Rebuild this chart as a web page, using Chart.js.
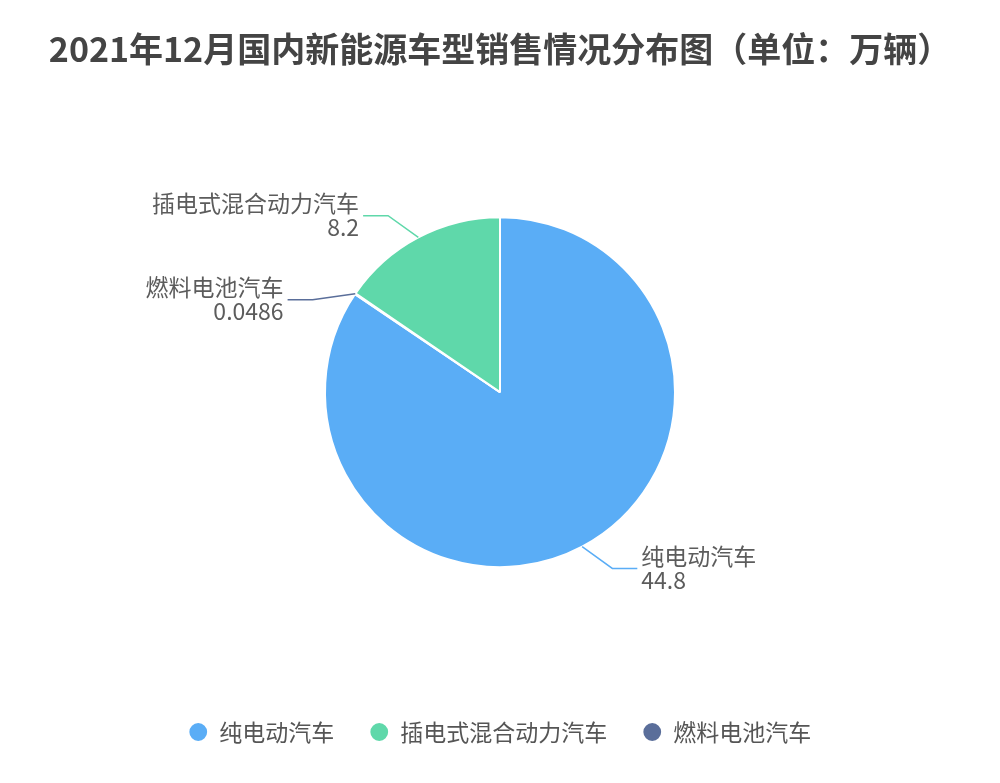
<!DOCTYPE html>
<html>
<head>
<meta charset="utf-8">
<script src="https://cdn.jsdelivr.net/npm/chart.js@4.4.0/dist/chart.umd.min.js"></script>
<style>
  html, body { margin: 0; padding: 0; background: #fff; }
  #wrap { width: 1000px; height: 783px; }
</style>
</head>
<body>
<div id="wrap"><canvas id="ChPie"></canvas></div>
<script>
// data (drawing order: clockwise from 12 o'clock)
const Categorias = ['纯电动汽车', '燃料电池汽车', '插电式混合动力汽车'];
const Ventas = [44.8, 0.0486, 8.2];
const Colores = ['#5aadf6', '#5a6e9a', '#5fd8aa'];
// legend order as shown under the chart
const OrdenLeyenda = ['纯电动汽车', '插电式混合动力汽车', '燃料电池汽车'];
const Titulo = '2021年12月国内新能源车型销售情况分布图（单位：万辆）';

const FONT = "'Noto Sans CJK SC', 'Noto Sans', sans-serif";

// leader lines + two-line labels, placed from the arc elements
const EtiquetasPie = {
    id: 'etiquetasPie',
    afterDatasetsDraw(chart, args, opts) {
        const ctx = chart.ctx;
        const meta = chart.getDatasetMeta(0);
        const ds = chart.data.datasets[0];
        var items = [];

        meta.data.forEach((arc, i) => {
            const p = arc.getProps(['x', 'y', 'startAngle', 'endAngle', 'outerRadius'], true);
            const mid = (p.startAngle + p.endAngle) / 2;
            const R = p.outerRadius + opts.len;
            items.push({
                i: i,
                cx: p.x, cy: p.y, R: R,
                side: Math.cos(mid) >= 0 ? 1 : -1,
                ex: p.x + Math.cos(mid) * p.outerRadius,
                ey: p.y + Math.sin(mid) * p.outerRadius,
                y: p.y + Math.sin(mid) * R * opts.yScale
            });
        });

        // push labels apart on each side
        [1, -1].forEach((s) => {
            const lado = items.filter(it => it.side === s).sort((a, b) => a.y - b.y);
            for (let k = 1; k < lado.length; k++) {
                if (lado[k].y - lado[k - 1].y < opts.minGap) {
                    lado[k].y = lado[k - 1].y + opts.minGap;
                }
            }
        });

        ctx.save();
        items.forEach((it) => {
            const dy = it.y - it.cy;
            const dx = Math.sqrt(Math.max(it.R * it.R - dy * dy, 0));
            const bx = it.cx + it.side * dx;
            const tx = bx + it.side * opts.len2;

            ctx.strokeStyle = ds.backgroundColor[it.i];
            ctx.lineWidth = 1.5;
            ctx.beginPath();
            ctx.moveTo(it.ex, it.ey);
            ctx.lineTo(bx, it.y);
            ctx.lineTo(tx, it.y);
            ctx.stroke();

            ctx.fillStyle = '#5c5c5c';
            ctx.font = '23px ' + FONT;
            ctx.textBaseline = 'middle';
            ctx.textAlign = it.side > 0 ? 'left' : 'right';
            const x = tx + it.side * 4;
            ctx.fillText(chart.data.labels[it.i], x, it.y - 12);
            ctx.fillText(String(ds.data[it.i]), x, it.y + 12);
        });
        ctx.restore();
    }
};

var ctx = document.getElementById('ChPie');
ctx.width = 1000;
ctx.height = 783;

var ChPie = new Chart(ctx, {
    type: 'pie',
    data: {
        labels: Categorias,
        datasets: [{
            data: Ventas,
            backgroundColor: Colores,
            borderColor: '#ffffff',
            borderWidth: 2,
            radius: 175
        }]
    },
    options: {
        responsive: false,
        animation: false,
        rotation: 0,
        layout: { padding: { top: 0, bottom: 29.5, left: 0, right: 0 } },
        plugins: {
            title: {
                display: true,
                text: Titulo,
                color: '#444444',
                font: { family: FONT, size: 34, weight: 'bold', lineHeight: 1.2 },
                padding: { top: 28.5, bottom: 30 }
            },
            legend: {
                position: 'bottom',
                labels: {
                    usePointStyle: true,
                    pointStyle: 'circle',
                    boxWidth: 19,
                    boxHeight: 14,
                    padding: 35.5,
                    color: '#555555',
                    font: { family: FONT, size: 23 },
                    sort: (a, b) => OrdenLeyenda.indexOf(a.text) - OrdenLeyenda.indexOf(b.text)
                }
            },
            tooltip: { enabled: false },
            etiquetasPie: { len: 34, len2: 25, yScale: 0.955, minGap: 84 }
        }
    },
    plugins: [EtiquetasPie]
});
</script>
</body>
</html>
